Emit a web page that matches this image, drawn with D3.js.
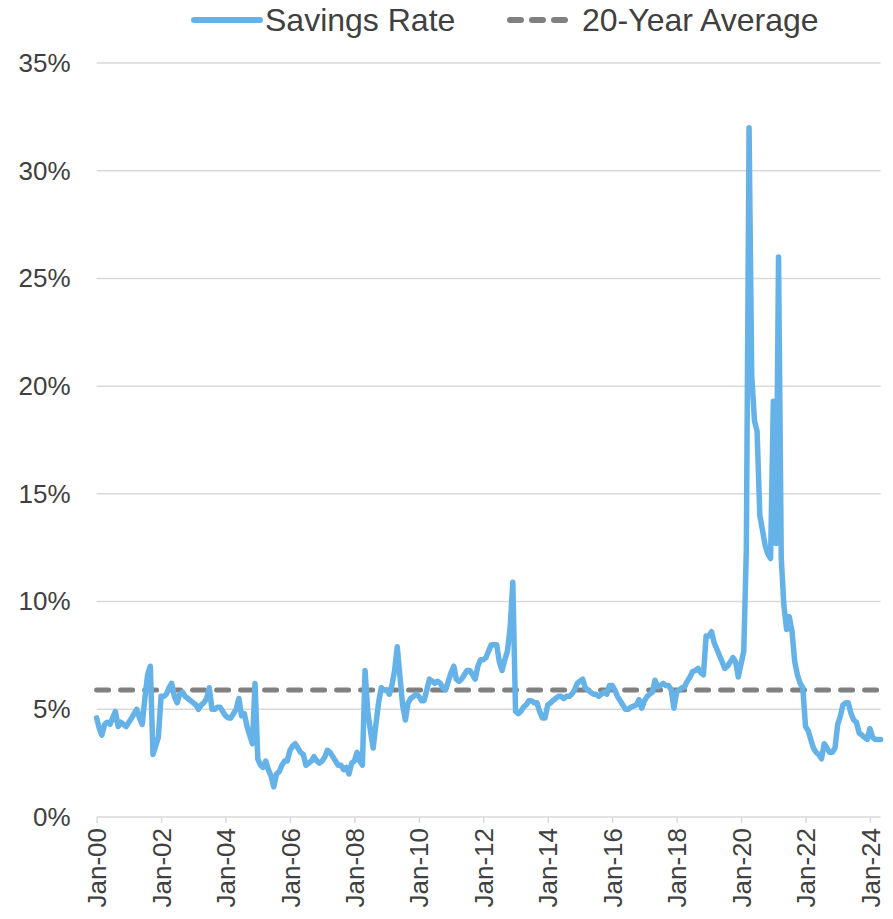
<!DOCTYPE html>
<html>
<head>
<meta charset="utf-8">
<script src="https://cdn.jsdelivr.net/npm/d3@7"></script>
<style>
  body { margin: 0; background: #fff; }
  svg { display: block; font-family: "Liberation Sans", Arial, sans-serif; }
</style>
</head>
<body>
<svg id="chart" width="893" height="919"></svg>
<script>
// monthly personal savings rate (%), Jan 2000 .. May 2024, one row per year
const savingsRate = [
  4.6, 4.1, 3.8, 4.3, 4.4, 4.3, 4.6, 4.9, 4.2, 4.4, 4.3, 4.2,
  4.4, 4.6, 4.8, 5.0, 4.6, 4.3, 5.5, 6.6, 7.0, 2.9, 3.3, 3.7,
  5.6, 5.6, 5.7, 6.0, 6.2, 5.6, 5.3, 5.7, 5.8, 5.6, 5.5, 5.4,
  5.3, 5.2, 5.0, 5.2, 5.3, 5.5, 6.0, 5.0, 5.0, 5.1, 5.1, 4.9,
  4.7, 4.6, 4.6, 4.8, 5.0, 5.5, 4.7, 4.8, 4.2, 3.8, 3.4, 6.2,
  2.7, 2.4, 2.3, 2.6, 2.2, 1.9, 1.4, 2.0, 2.1, 2.4, 2.6, 2.6,
  3.1, 3.3, 3.4, 3.2, 3.0, 2.9, 2.4, 2.5, 2.6, 2.8, 2.6, 2.5,
  2.6, 2.8, 3.1, 3.0, 2.8, 2.6, 2.4, 2.4, 2.2, 2.3, 2.0, 2.5,
  2.6, 3.0, 2.6, 2.4, 6.8, 4.9, 4.0, 3.2, 4.3, 5.3, 6.0, 5.9,
  5.9, 5.7, 6.1, 6.8, 7.9, 6.5, 5.2, 4.5, 5.3, 5.5, 5.6, 5.7,
  5.6, 5.4, 5.4, 5.9, 6.4, 6.3, 6.2, 6.3, 6.2, 6.0, 5.9, 6.3,
  6.7, 7.0, 6.4, 6.3, 6.4, 6.6, 6.8, 6.8, 6.6, 6.4, 7.0, 7.3,
  7.3, 7.4, 7.7, 8.0, 8.0, 8.0, 7.2, 6.8, 7.3, 7.7, 8.8, 10.9,
  4.9, 4.8, 4.9, 5.1, 5.2, 5.4, 5.4, 5.3, 5.3, 4.9, 4.6, 4.6,
  5.2, 5.3, 5.4, 5.5, 5.6, 5.6, 5.5, 5.6, 5.6, 5.7, 5.9, 6.2,
  6.3, 6.4, 6.0, 5.9, 5.8, 5.7, 5.7, 5.6, 5.7, 5.8, 5.7, 6.1,
  6.1, 5.9, 5.6, 5.4, 5.2, 5.0, 5.0, 5.1, 5.15, 5.2, 5.45, 5.05,
  5.4, 5.6, 5.7, 5.8, 6.35, 6.05, 6.1, 6.2, 6.1, 6.1, 5.9, 5.05,
  5.8, 5.9, 6.0, 6.05, 6.3, 6.5, 6.75, 6.8, 6.9, 6.7, 6.6, 8.4,
  8.4, 8.6, 8.1, 7.8, 7.5, 7.2, 6.9, 7.0, 7.2, 7.4, 7.2, 6.5,
  7.1, 7.7, 12.4, 32.0, 20.5, 18.4, 17.9, 14.0, 13.3, 12.6, 12.2, 12.0,
  19.3, 12.7, 26.0, 12.0, 9.8, 8.7, 9.3, 8.6, 7.2, 6.6, 6.2, 6.0,
  4.2, 4.0, 3.6, 3.2, 3.0, 2.9, 2.7, 3.4, 3.2, 3.0, 3.0, 3.2,
  4.3, 4.7, 5.2, 5.3, 5.3, 4.8, 4.5, 4.4, 3.9, 3.8, 3.7, 3.6,
  4.1, 3.7, 3.6, 3.6, 3.6
];
const startMonth = new Date(2000, 0, 1);
const twentyYearAvg = 5.9;
const yTicks = [0, 5, 10, 15, 20, 25, 30, 35];
const legendItems = ["Savings Rate", "20-Year Average"];

const svg = d3.select("#chart");
const textColor = "#404040";
const gridColor = "#d9d9d9";
const lineColor = "#65b2e9";
const avgColor = "#808080";

const data = savingsRate.map((v, i) => ({ date: d3.timeMonth.offset(startMonth, i), value: v }));

const x = d3.scaleTime()
  .domain(d3.extent(data, d => d.date))
  .range([96.6, 880.6]);
const y = d3.scaleLinear()
  .domain([0, 35])
  .range([817, 63]);

// gridlines
svg.append("g")
  .selectAll("line")
  .data(yTicks)
  .join("line")
  .attr("x1", x.range()[0])
  .attr("x2", x.range()[1])
  .attr("y1", d => y(d))
  .attr("y2", d => y(d))
  .attr("stroke", gridColor)
  .attr("stroke-width", 1.5);

// y labels
const yAxis = svg.append("g")
  .attr("transform", `translate(${x.range()[0]},0)`)
  .call(d3.axisLeft(y).tickValues(yTicks).tickSize(0).tickPadding(26).tickFormat(d => d + "%"));
yAxis.select(".domain").remove();
yAxis.selectAll("text")
  .attr("fill", textColor)
  .style("font-size", "26px");

// x axis: ticks every two years, rotated labels
const xAxis = svg.append("g")
  .attr("transform", `translate(0,${y(0)})`)
  .call(d3.axisBottom(x)
    .ticks(d3.timeYear.every(2))
    .tickSize(6)
    .tickFormat(d3.timeFormat("%b-%y")));
xAxis.select(".domain").remove();
xAxis.selectAll(".tick line").attr("stroke", gridColor).attr("stroke-width", 1.5);
xAxis.selectAll("text")
  .attr("fill", textColor)
  .style("font-size", "26px")
  .attr("text-anchor", "end")
  .attr("transform", "rotate(-90)")
  .attr("x", -11)
  .attr("y", 0)
  .attr("dy", "0.35em");

// 20-year average
svg.append("line")
  .attr("x1", x.range()[0])
  .attr("x2", x.range()[1])
  .attr("y1", y(twentyYearAvg))
  .attr("y2", y(twentyYearAvg))
  .attr("stroke", avgColor)
  .attr("stroke-width", 5)
  .attr("stroke-dasharray", "12,12")
  .attr("stroke-linecap", "round");

// savings rate line
const line = d3.line()
  .x(d => x(d.date))
  .y(d => y(d.value));

svg.append("path")
  .datum(data)
  .attr("d", line)
  .attr("fill", "none")
  .attr("stroke", lineColor)
  .attr("stroke-width", 5.5)
  .attr("stroke-linejoin", "round")
  .attr("stroke-linecap", "round");

// legend
const legend = svg.append("g").style("font-size", "32px").attr("fill", textColor);
legend.append("line")
  .attr("x1", 194).attr("x2", 260).attr("y1", 20).attr("y2", 20)
  .attr("stroke", lineColor).attr("stroke-width", 6).attr("stroke-linecap", "round");
legend.append("text").attr("x", 265).attr("y", 31).text(legendItems[0]);
legend.append("line")
  .attr("x1", 510).attr("x2", 570).attr("y1", 20).attr("y2", 20)
  .attr("stroke", avgColor).attr("stroke-width", 6)
  .attr("stroke-dasharray", "11,11").attr("stroke-linecap", "round");
legend.append("text").attr("x", 582).attr("y", 31).text(legendItems[1]);
</script>
</body>
</html>
